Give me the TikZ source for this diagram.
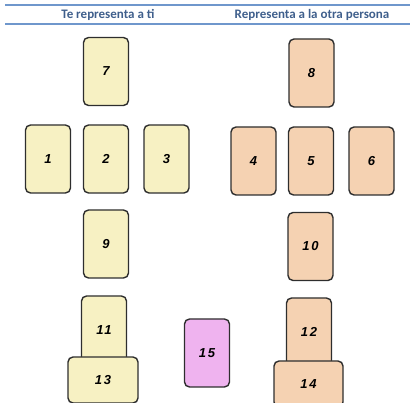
\documentclass[tikz,border=0pt]{standalone}
\usepackage{fontspec}
\setmainfont{Liberation Sans}
\newfontfamily\headfont{Carlito}
\newfontfamily\cardfont[LetterSpace=14]{Liberation Sans}
\definecolor{headblue}{HTML}{3F5F8C}
\definecolor{lineblue}{HTML}{6F97CC}
\definecolor{youcard}{HTML}{F7F1C3}
\definecolor{othercard}{HTML}{F5D2B2}
\definecolor{pinkcard}{HTML}{EFB3EF}
\definecolor{cardline}{HTML}{2E2E2E}
\begin{document}
\begin{tikzpicture}[x=1pt,y=-1pt,
  card/.style={draw=cardline, line width=1.4pt, rounded corners=5pt,
    minimum width=45pt, minimum height=68pt, inner sep=0pt,
    font=\cardfont\fontsize{13}{13}\selectfont\bfseries\itshape},
  you/.style={card, fill=youcard},
  other/.style={card, fill=othercard},
  head/.style={font=\headfont\fontsize{13}{15}\selectfont\bfseries, text=headblue, inner sep=0pt}]
\useasboundingbox (0,0) rectangle (410,403);
\draw[lineblue, line width=1.2pt] (5,5) -- (410,5);
\draw[lineblue, line width=1.2pt] (5,24) -- (410,24);
\node[head] (h1) at (108,15) {Te representa a ti};
\node[head] (h2) at (312,15) {Representa a la otra persona};
% you side
\node[you] (c7) at (106,71.5) {7};
\node[you] (c1) at (48,159) {1};
\node[you] (c2) at (106,159) {2};
\node[you] (c3) at (166.5,159) {3};
\node[you] (c9) at (106,244) {9};
\node[you] (c11) at (104,330) {11};
\node[you, minimum width=70pt, minimum height=46pt] (c13) at (103,380) {13};
% pink
\node[card, fill=pinkcard] (c15) at (207,353) {15};
% other side
\node[other] (c8) at (311.5,73) {8};
\node[other] (c4) at (253.5,161) {4};
\node[other] (c5) at (311,161) {5};
\node[other] (c6) at (371.5,161) {6};
\node[other] (c10) at (310.5,246.5) {10};
\node[other] (c12) at (309,332) {12};
\node[other, minimum width=69pt, minimum height=46pt] (c14) at (308.5,384) {14};
\end{tikzpicture}
\end{document}
